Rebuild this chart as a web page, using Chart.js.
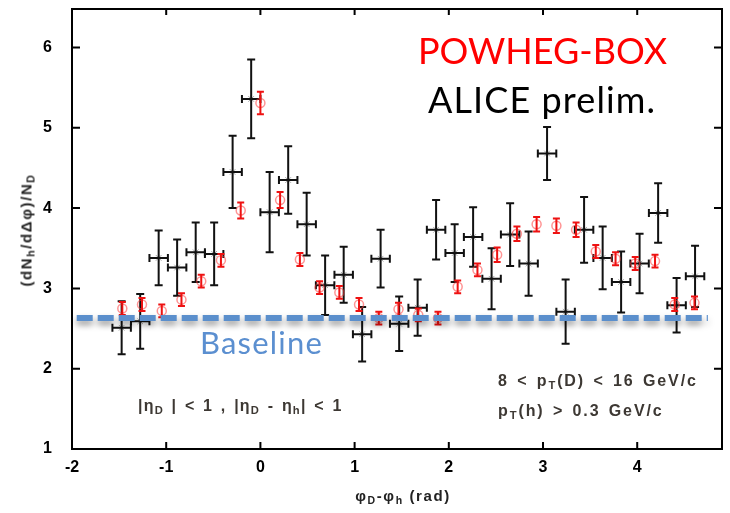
<!DOCTYPE html>
<html lang="en">
<head>
<meta charset="UTF-8">
<title>D-h azimuthal correlation, ALICE prelim. vs POWHEG-BOX</title>
<script src="https://cdn.jsdelivr.net/npm/chart.js@4.4.0/dist/chart.umd.min.js"></script>
<style>
  * { margin: 0; padding: 0; box-sizing: border-box; }
  body { width: 730px; height: 513px; background: #fff; overflow: hidden; }
  .wrap { position: relative; width: 730px; height: 513px; }
  canvas { position: absolute; left: 0; top: 0; }
  .note { position: absolute; white-space: nowrap; line-height: 1; }
  .note sub { font-size: 70%; vertical-align: -0.3em; line-height: 0; }
  .big { font-family: Lato, "Open Sans", sans-serif; font-size: 36px; }
  .plotnote { font-family: "Liberation Sans", Arial, sans-serif; font-weight: bold; font-size: 16px; color: #3d3833; letter-spacing: 1.4px; word-spacing: 2px; }
  .axtitle { font-family: "Liberation Sans", Arial, sans-serif; font-weight: bold; font-size: 15px; color: #222; letter-spacing: 1.6px; }
</style>
</head>
<body>
<div class="wrap">
  <canvas id="chart" width="730" height="513"></canvas>

  <div class="note big" style="left:418px; top:32px; color:#ff0000;">POWHEG-BOX</div>
  <div class="note big" style="left:428px; top:81px; color:#000; letter-spacing:1.1px;">ALICE prelim.</div>
  <div class="note big" style="left:200px; top:327px; font-size:31px; color:#5b8fd0; letter-spacing:1.2px;">Baseline</div>

  <div class="note plotnote" style="left:138px; top:398px; letter-spacing:1.2px;">|η<sub>D</sub> | &lt; 1 , |η<sub>D</sub> - η<sub>h</sub>| &lt; 1</div>
  <div class="note plotnote" style="left:498px; top:373px; letter-spacing:1.9px;">8 &lt; p<sub>T</sub>(D) &lt; 16 GeV/c</div>
  <div class="note plotnote" style="left:498px; top:403px; letter-spacing:1.9px;">p<sub>T</sub>(h) &gt; 0.3 GeV/c</div>

  <div class="note axtitle" style="left:403px; top:488px; transform:translateX(-50%);">φ<sub>D</sub>-φ<sub>h</sub> (rad)</div>
  <div class="note axtitle" style="left:26px; top:230px; transform:translate(-50%,-50%) rotate(-90deg);">(dN<sub>h</sub>/dΔφ)/N<sub>D</sub></div>
</div>

<script>
  // ALICE preliminary: bin centres (rad), values, stat. errors
  const aliceX = [-1.473, -1.276, -1.080, -0.884, -0.687, -0.491, -0.295, -0.098,
                   0.098,  0.295,  0.491,  0.687,  0.884,  1.080,  1.276,  1.473,
                   1.669,  1.865,  2.062,  2.258,  2.454,  2.651,  2.847,  3.043,
                   3.240,  3.436,  3.633,  3.829,  4.025,  4.222,  4.418,  4.614];
  const aliceY = [2.51, 2.59, 3.38, 3.26, 3.45, 3.43, 4.45, 5.36,
                  3.95, 4.35, 3.80, 3.04, 3.17, 2.43, 3.37, 2.56,
                  2.76, 3.73, 3.44, 3.64, 3.12, 3.67, 3.31, 4.68,
                  2.71, 3.73, 3.38, 3.08, 3.31, 3.94, 2.79, 3.15];
  const aliceErr = [0.33, 0.34, 0.34, 0.35, 0.37, 0.39, 0.45, 0.49,
                    0.50, 0.42, 0.39, 0.37, 0.35, 0.34, 0.36, 0.34,
                    0.35, 0.37, 0.36, 0.37, 0.38, 0.39, 0.40, 0.33,
                    0.40, 0.41, 0.39, 0.38, 0.37, 0.37, 0.34, 0.38];
  const aliceXErr = 0.098;

  // POWHEG-BOX
  const powhegX = [-1.466, -1.257, -1.047, -0.838, -0.628, -0.419, -0.209, 0.000,
                    0.209,  0.419,  0.628,  0.838,  1.047,  1.257,  1.466,  1.676,
                    1.885,  2.094,  2.304,  2.513,  2.723,  2.932,  3.142,  3.351,
                    3.560,  3.770,  3.979,  4.189,  4.398,  4.608];
  const powhegY = [2.75, 2.80, 2.72, 2.86, 3.09, 3.35, 3.97, 5.31,
                   4.10, 3.36, 3.01, 2.95, 2.80, 2.63, 2.74, 2.67,
                   2.63, 3.02, 3.23, 3.42, 3.68, 3.80, 3.78, 3.73,
                   3.46, 3.37, 3.31, 3.34, 2.80, 2.82];
  const powhegErr = [0.08, 0.08, 0.08, 0.08, 0.08, 0.08, 0.10, 0.14,
                     0.10, 0.08, 0.08, 0.08, 0.08, 0.08, 0.08, 0.08,
                     0.08, 0.08, 0.08, 0.09, 0.09, 0.09, 0.09, 0.09,
                     0.08, 0.08, 0.08, 0.08, 0.08, 0.08];

  // dashed baseline
  const baselineX = [-1.95, 4.75];
  const baselineY = [2.63, 2.63];

  const xTicks = [-2, -1, 0, 1, 2, 3, 4];
  const yTicks = [1, 2, 3, 4, 5, 6];

  const toPoints = (xs, ys) => xs.map((x, i) => ({ x: x, y: ys[i] }));

  // error bars drawn from the dataset's own error arrays
  const errorBars = {
    id: 'errorBars',
    beforeDatasetDraw(chart, args) {
      const ds = chart.data.datasets[args.index];
      if (ds.shadow) {
        const ctx = chart.ctx;
        ctx.save();
        ctx.shadowColor = 'rgba(0,0,0,0.4)';
        ctx.shadowBlur = 6;
        ctx.shadowOffsetY = 4;
      }
    },
    afterDatasetDraw(chart, args) {
      const ds = chart.data.datasets[args.index];
      const ctx = chart.ctx;
      if (ds.shadow) { ctx.restore(); return; }
      if (!ds.yErr) return;
      const xs = chart.scales.x, ys = chart.scales.y;
      const cap = ds.cap;
      ctx.save();
      ctx.strokeStyle = ds.errColor;
      ctx.lineWidth = 2;
      ds.data.forEach((p, i) => {
        const px = xs.getPixelForValue(p.x);
        const py = ys.getPixelForValue(p.y);
        const top = ys.getPixelForValue(p.y + ds.yErr[i]);
        const bot = ys.getPixelForValue(p.y - ds.yErr[i]);
        ctx.beginPath();
        ctx.moveTo(px, top); ctx.lineTo(px, bot);
        ctx.moveTo(px - cap, top); ctx.lineTo(px + cap, top);
        ctx.moveTo(px - cap, bot); ctx.lineTo(px + cap, bot);
        if (ds.xErr) {
          const l = xs.getPixelForValue(p.x - ds.xErr);
          const r = xs.getPixelForValue(p.x + ds.xErr);
          ctx.moveTo(l, py); ctx.lineTo(r, py);
          ctx.moveTo(l, py - cap); ctx.lineTo(l, py + cap);
          ctx.moveTo(r, py - cap); ctx.lineTo(r, py + cap);
        }
        ctx.stroke();
      });
      ctx.restore();
    }
  };

  // frame with inward ticks on all four sides
  const frame = {
    id: 'frame',
    afterDraw(chart) {
      const { ctx, chartArea: a, scales: { x, y } } = chart;
      ctx.save();
      ctx.strokeStyle = '#000';
      ctx.lineWidth = 2;
      ctx.strokeRect(a.left, a.top, a.right - a.left, a.bottom - a.top);
      ctx.beginPath();
      xTicks.forEach(v => {
        const px = x.getPixelForValue(v);
        ctx.moveTo(px, a.bottom); ctx.lineTo(px, a.bottom - 7);
        ctx.moveTo(px, a.top); ctx.lineTo(px, a.top + 6);
      });
      yTicks.forEach(v => {
        const py = y.getPixelForValue(v);
        ctx.moveTo(a.left, py); ctx.lineTo(a.left + 8, py);
        ctx.moveTo(a.right, py); ctx.lineTo(a.right - 8, py);
      });
      ctx.stroke();
      ctx.restore();
    }
  };

  const tickFont = { family: '"Liberation Sans", Arial, sans-serif', size: 16, weight: 'bold' };

  new Chart(document.getElementById('chart'), {
    type: 'scatter',
    data: {
      datasets: [
        {
          label: 'ALICE prelim.',
          data: toPoints(aliceX, aliceY),
          yErr: aliceErr,
          xErr: aliceXErr,
          errColor: '#111',
          cap: 4,
          pointStyle: 'star',
          pointRadius: 4,
          borderColor: 'rgba(0,0,0,0.35)',
          borderWidth: 1,
          backgroundColor: 'transparent',
          order: 3
        },
        {
          label: 'POWHEG-BOX',
          data: toPoints(powhegX, powhegY),
          yErr: powhegErr,
          errColor: '#ee1111',
          cap: 3.5,
          pointStyle: 'circle',
          pointRadius: 4.5,
          borderColor: 'rgba(255,60,60,0.55)',
          borderWidth: 1.5,
          backgroundColor: 'transparent',
          order: 2
        },
        {
          label: 'Baseline',
          data: toPoints(baselineX, baselineY),
          showLine: true,
          shadow: true,
          borderColor: '#5b8fcc',
          borderWidth: 6,
          borderDash: [16, 5],
          pointRadius: 0,
          order: 1
        }
      ]
    },
    options: {
      responsive: false,
      animation: false,
      devicePixelRatio: 1,
      layout: { autoPadding: false, padding: { top: 9, right: 8, left: 0, bottom: 0 } },
      plugins: { legend: { display: false }, tooltip: { enabled: false } },
      scales: {
        x: {
          type: 'linear',
          min: -2,
          max: 4.9,
          afterBuildTicks: s => { s.ticks = xTicks.map(v => ({ value: v })); },
          afterFit: s => { s.height = 64; s.paddingLeft = 0; s.paddingRight = 0; },
          grid: { display: false, drawTicks: false },
          border: { display: false },
          ticks: { color: '#000', font: tickFont, padding: 9, maxRotation: 0, autoSkip: false }
        },
        y: {
          type: 'linear',
          min: 1,
          max: 6.48,
          afterBuildTicks: s => { s.ticks = yTicks.map(v => ({ value: v })); },
          afterFit: s => { s.width = 72; s.paddingTop = 0; s.paddingBottom = 0; },
          grid: { display: false, drawTicks: false },
          border: { display: false },
          ticks: { color: '#000', font: tickFont, padding: 20, autoSkip: false }
        }
      }
    },
    plugins: [errorBars, frame]
  });
</script>
</body>
</html>
